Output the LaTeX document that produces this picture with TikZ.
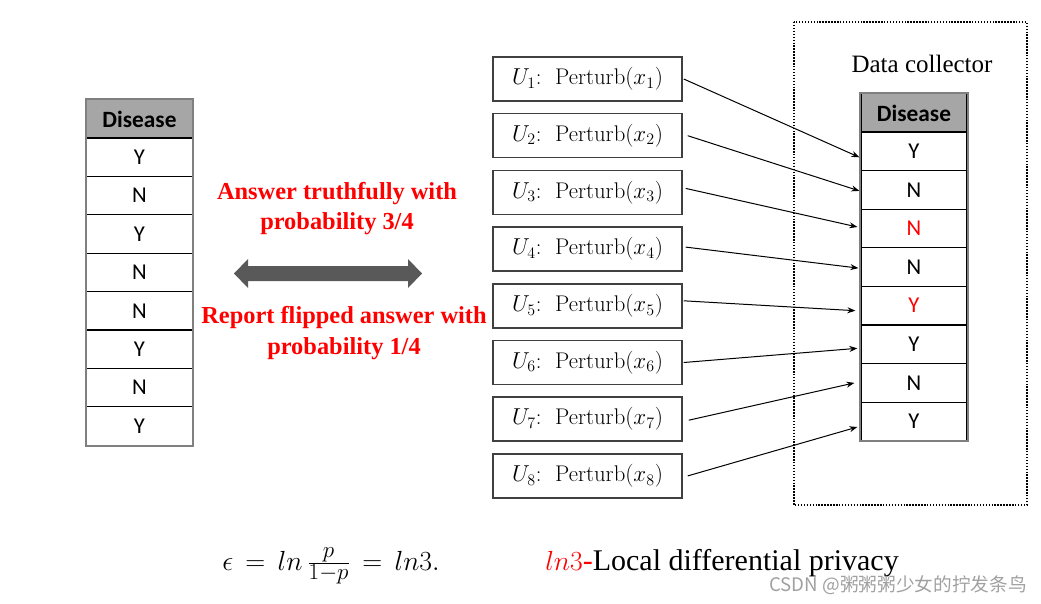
\documentclass[tikz,border=0pt]{standalone}
\usepackage{fontspec}
\usetikzlibrary{arrows.meta,calc}
\newfontfamily\tnr{Liberation Serif}
\newfontfamily\calib{Carlito}
\newfontfamily\cjkf{Noto Sans CJK SC}
\definecolor{hdrgray}{HTML}{A6A6A6}
\definecolor{tblgray}{HTML}{808080}
\definecolor{boxgray}{HTML}{404040}
\definecolor{arrgray}{HTML}{595959}
\definecolor{txtred}{HTML}{FF0000}
\definecolor{wmgray}{HTML}{A0A0A0}
\newcommand{\fracpart}[1]{\mbox{\fontsize{16}{18}\selectfont$#1$}}
\begin{document}
\begin{tikzpicture}[x=0.75pt,y=-0.75pt,
  cell/.style={draw=black, line width=0.9pt, minimum width=79.5pt, minimum height=28.9pt, inner sep=0pt, font=\calib\fontsize{17}{20}\selectfont},
  hdr/.style={cell, fill=hdrgray, font=\calib\bfseries\fontsize{17.5}{20}\selectfont},
  pbox/.style={draw=boxgray, line width=1.1pt, minimum width=141.75pt, minimum height=33pt, inner sep=0pt, font=\fontsize{17}{19}\selectfont},
  link/.style={line width=0.75pt, -{Stealth[length=6pt,width=4.5pt]}},
  redtxt/.style={text=txtred, font=\tnr\bfseries\fontsize{18.3}{23}\selectfont, align=center}
]
\useasboundingbox (0,0) rectangle (1041,603);

% left table
\node[hdr] (lh) at (139.5,119) {Disease};
\foreach \v [count=\i] in {Y,N,Y,N,N,Y,N,Y}
  \node[cell] (l\i) at (139.5,118.8+38.4*\i) {\v};
\draw[tblgray, line width=1.5pt] (lh.north west) rectangle (l8.south east);

% data collector frame
\draw[line width=1.1pt, dash pattern=on 1.1pt off 1.1pt] (794,22) rectangle (1027,505);
\node[font=\tnr\fontsize{18.75}{22}\selectfont, anchor=base, inner sep=0pt] (dct) at (922,72) {Data collector};

% right table
\node[hdr] (rh) at (914,113) {Disease};
\foreach \v [count=\i] in {Y,N,{\textcolor{txtred}{N}},N,{\textcolor{txtred}{Y}},Y,N,Y}
  \node[cell] (r\i) at (914,112.7+38.6*\i) {\v};
\draw[tblgray, line width=1.5pt] (rh.north west) rectangle (r8.south east);

% perturb boxes
\foreach \i in {1,...,8}
  \node[pbox] (p\i) at (587.5,22.3+56.7*\i) {$U_{\i}$:\ \ Perturb$(x_{\i})$};

% links
\foreach \i/\sx/\sy/\ex/\ey in {1/1/0/-1/6, 2/5/0/-1/1, 3/3/-4/-3/-1.5, 4/3/-2/-2/1, 5/1/-5/-5/5, 6/1/0/-3/4, 7/6/1/-6/0, 8/5/0/-3/5.5}
  \draw[link] ($(p\i.east)+(\sx,\sy)$) -- ($(r\i.west)+(\ex,\ey)$);

% double arrow
\fill[arrgray] (234,273.5) -- (248,259) -- (248,266) -- (408,266) -- (408,259) -- (422,273.5)
  -- (408,288) -- (408,281) -- (248,281) -- (248,288) -- cycle;

% red texts
\node[redtxt] (t1) at (337,208.5) {Answer truthfully with\\probability 3/4};
\node[redtxt] (t2) at (344,333) {Report flipped answer with\\probability 1/4};

% formulas
\node[anchor=base west, inner sep=0pt, font=\fontsize{21}{26}\selectfont] (eq) at (222,570)
  {$\epsilon \,=\, ln\,\frac{\fracpart{p}}{\fracpart{1{-}p}} \,=\, ln3.$};
\node[anchor=base west, inner sep=0pt, font=\tnr\fontsize{22.5}{26}\selectfont] (ldp) at (545,570)
  {\textcolor{txtred}{{\fontsize{21}{24}\selectfont$ln3$}-}Local differential privacy};

% watermark
\node[anchor=base east, inner sep=0pt, text=wmgray, font=\cjkf\fontsize{14}{16}\selectfont] (wm) at (1027,591)
  {CSDN @粥粥粥少女的拧发条鸟};
\end{tikzpicture}
\end{document}
